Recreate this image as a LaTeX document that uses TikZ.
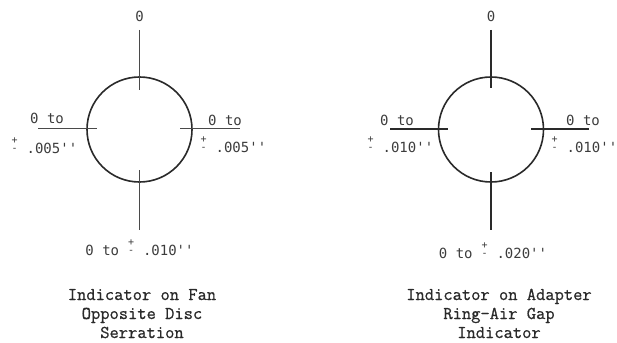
\documentclass[tikz,border=0pt]{standalone}
\usepackage{fontspec}
\newfontfamily\labfont{DejaVu Sans Mono}
\newfontfamily\capfont{Latin Modern Mono}[FakeBold=0.8]
\newcommand\pmt{\makebox[0.5em][c]{\fontsize{10}{10}\selectfont\rlap{\raisebox{1.0em}{+}}\raisebox{0.15em}{-}}}
\definecolor{ink}{HTML}{2A2A2A}
\definecolor{labink}{HTML}{3C3C3C}
\begin{document}
\begin{tikzpicture}[x=1pt,y=-1pt,
  ring/.style={circle,draw=ink,line width=1.6pt,minimum size=105pt,inner sep=0pt},
  tickthin/.style={draw=ink!85,line width=1pt},
  tickthick/.style={draw=ink,line width=1.4pt},
  lab/.style={font=\labfont\fontsize{14}{16}\selectfont,text=labink,inner sep=0pt},
  captext/.style={font=\capfont\fontsize{18}{19}\selectfont,text=ink,inner sep=0pt,anchor=base}]
\useasboundingbox (0,0) rectangle (617,342);
% ---------- left diagram ----------
\node[ring] (c1) at (139.5,129.5) {};
\coordinate (t1a) at (139.5,30);  \coordinate (t1b) at (139.5,90);
\coordinate (l1a) at (38,128);    \coordinate (l1b) at (97,128);
\coordinate (r1a) at (180,128);   \coordinate (r1b) at (240,128);
\coordinate (b1a) at (139.5,170); \coordinate (b1b) at (139.5,230);
\draw[tickthin] (t1a) -- (t1b);
\draw[tickthin] (l1a) -- (l1b);
\draw[tickthin] (r1a) -- (r1b);
\draw[tickthin] (b1a) -- (b1b);
\node[lab,anchor=base] (n1t) at (139.5,22) {0};
\node[lab,anchor=base west] (n1l1) at (30,123) {0 to};
\node[lab,anchor=base west] (n1l2) at (11,153) {\pmt{} .005''};
\node[lab,anchor=base west] (n1r1) at (208,125) {0 to};
\node[lab,anchor=base west] (n1r2) at (200,152) {\pmt{} .005''};
\node[lab,anchor=base] (n1b) at (139.5,255) {0 to \pmt{} .010''};
\node[captext] (k1a) at (142,300) {Indicator on Fan};
\node[captext] (k1b) at (142,319) {Opposite Disc};
\node[captext] (k1c) at (142,338) {Serration};
% ---------- right diagram ----------
\node[ring] (c2) at (491,129.5) {};
\coordinate (t2a) at (491,30);  \coordinate (t2b) at (491,88);
\coordinate (l2a) at (390,129); \coordinate (l2b) at (448,129);
\coordinate (r2a) at (531,129); \coordinate (r2b) at (589,129);
\coordinate (b2a) at (491,172); \coordinate (b2b) at (491,230);
\draw[tickthick] (t2a) -- (t2b);
\draw[tickthick] (l2a) -- (l2b);
\draw[tickthick] (r2a) -- (r2b);
\draw[tickthick] (b2a) -- (b2b);
\node[lab,anchor=base] (n2t) at (491,22) {0};
\node[lab,anchor=base west] (n2l1) at (380,125) {0 to};
\node[lab,anchor=base west] (n2l2) at (367,152) {\pmt{} .010''};
\node[lab,anchor=base west] (n2r1) at (566,125) {0 to};
\node[lab,anchor=base west] (n2r2) at (551,152) {\pmt{} .010''};
\node[lab,anchor=base] (n2b) at (493,258) {0 to \pmt{} .020''};
\node[captext] (k2a) at (499,300) {Indicator on Adapter};
\node[captext] (k2b) at (499,319) {Ring-Air Gap};
\node[captext] (k2c) at (499,338) {Indicator};
\end{tikzpicture}
\end{document}
